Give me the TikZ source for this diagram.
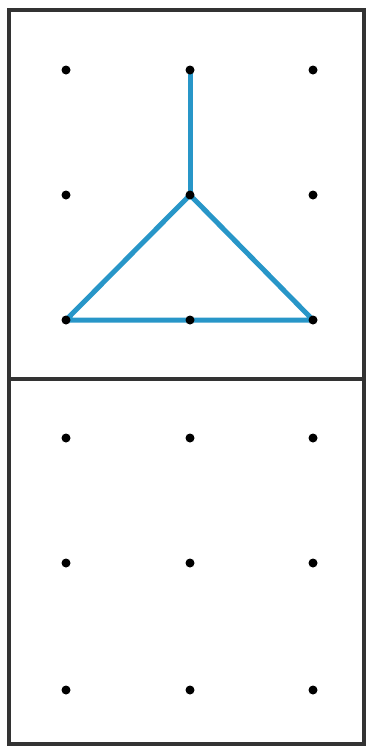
\documentclass[tikz,border=0pt]{standalone}
\begin{document}
\begin{tikzpicture}[x=1pt,y=-1pt,
  dot/.style={circle,fill=black,inner sep=0pt,minimum size=9pt},
  frame/.style={draw=black!80,line width=3.5pt},
  seg/.style={draw={rgb,255:red,40;green,150;blue,200},line width=5pt,line cap=round}]
\useasboundingbox (0,0) rectangle (368,747);
\draw[frame] (9,10) rectangle (364,744);
\draw[frame] (9,379) -- (364,379);
\foreach \c/\x in {1/66,2/190,3/313}{
  \foreach \r/\y in {1/70,2/195,3/320}{
    \coordinate (t\c\r) at (\x,\y);
  }
  \foreach \r/\y in {1/438,2/563,3/690}{
    \coordinate (b\c\r) at (\x,\y);
  }
}
\draw[seg] (t21) -- (t22);
\draw[seg,line join=round] (t22) -- (t13) -- (t33) -- cycle;
\foreach \c in {1,2,3}{\foreach \r in {1,2,3}{
  \node[dot] (nt\c\r) at (t\c\r) {};
  \node[dot] (nb\c\r) at (b\c\r) {};
}}
\end{tikzpicture}
\end{document}
